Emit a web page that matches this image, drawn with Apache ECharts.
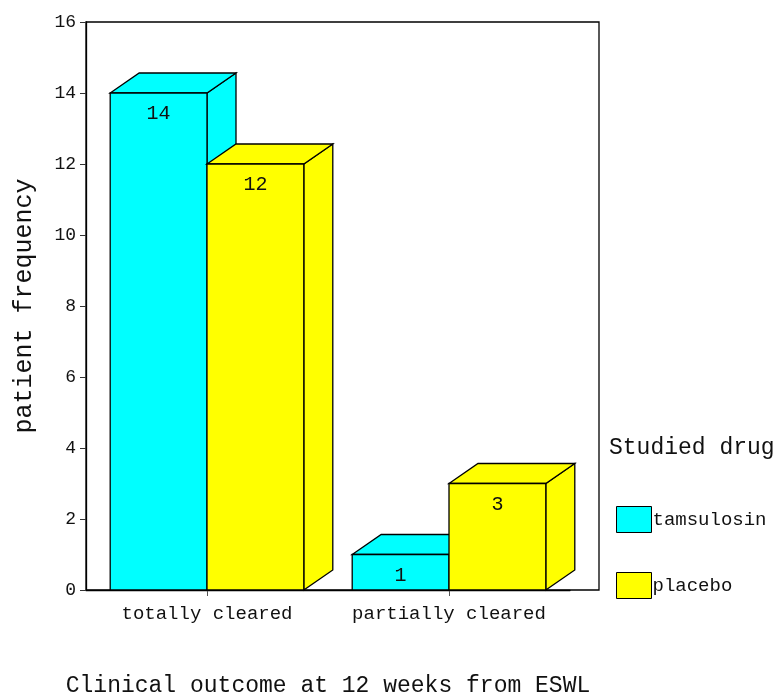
<!DOCTYPE html>
<html>
<head>
<meta charset="utf-8">
<script src="https://cdn.jsdelivr.net/npm/echarts@6/dist/echarts.min.js"></script>
<style>html,body{margin:0;padding:0;background:#fff}#c{width:774px;height:697px}</style>
</head>
<body>
<div id="c"></div>
<script>
var categories = ['totally cleared', 'partially cleared'];
var seriesNames = ['tamsulosin', 'placebo'];
var tamsulosin = [14, 1];
var placebo = [12, 3];
var yTicks = [0, 2, 4, 6, 8, 10, 12, 14, 16];
var colors = ['#00FFFF', '#FFFF00'];

var FONT = 'Liberation Mono';
var DX = 29, DY = 20;

function renderBar(seriesIdx) {
  return function (params, api) {
    var c = api.value(0), v = api.value(1);
    var base = api.coord([c, 0]);
    var top = api.coord([c, v]);
    var band = api.size([1, 0])[0];
    var w = band * 0.4;
    var x0 = seriesIdx === 0 ? base[0] - w : base[0];
    var x1 = x0 + w;
    var ty = top[1], by = base[1];
    var style = { fill: colors[seriesIdx], stroke: '#000', lineWidth: 1.3 };
    return {
      type: 'group',
      children: [
        { type: 'polygon', shape: { points: [[x1, ty], [x1 + DX, ty - DY], [x1 + DX, by - DY], [x1, by]] }, style: style },
        { type: 'polygon', shape: { points: [[x0, ty], [x0 + DX, ty - DY], [x1 + DX, ty - DY], [x1, ty]] }, style: style },
        { type: 'rect', shape: { x: x0, y: ty, width: w, height: by - ty }, style: style },
        { type: 'text', x: (x0 + x1) / 2, y: ty + 21, style: { text: String(v), font: '20px "' + FONT + '"', fill: '#111', align: 'center', verticalAlign: 'middle' } }
      ]
    };
  };
}

function toData(arr) { return arr.map(function (v, i) { return [i, v]; }); }

var chart = echarts.init(document.getElementById('c'), null, { renderer: 'canvas' });
chart.setOption({
  animation: false,
  backgroundColor: '#fff',
  textStyle: { fontFamily: FONT },
  grid: [
    { left: 86, top: 22, width: 484, bottom: 107, containLabel: false, outerBoundsMode: 'none' },
    { left: 86, top: 22, right: 175, bottom: 107, containLabel: false, outerBoundsMode: 'none',
      show: true, borderColor: '#000', borderWidth: 1.3, backgroundColor: 'transparent' }
  ],
  title: {
    text: 'Studied drug', left: 604, top: 431,
    textStyle: { fontFamily: FONT, fontSize: 23, fontWeight: 'normal', color: '#111' }
  },
  legend: {
    orient: 'vertical', left: 611, top: 501,
    itemWidth: 35, itemHeight: 26, itemGap: 39,
    icon: 'rect',
    data: seriesNames,
    textStyle: { fontFamily: FONT, fontSize: 19, color: '#111', padding: [0, 0, 0, -4] },
    itemStyle: { borderColor: '#000', borderWidth: 1 }
  },
  xAxis: [
    {
      type: 'category', gridIndex: 0, data: categories, boundaryGap: true,
      axisLine: { show: true, lineStyle: { color: '#000', width: 1.3 } },
      axisTick: { show: true, alignWithLabel: true, length: 6, lineStyle: { color: '#555' } },
      axisLabel: { fontFamily: FONT, fontSize: 19, color: '#111', margin: 14, interval: 0, hideOverlap: false },
      name: 'Clinical outcome at 12 weeks from ESWL', nameLocation: 'middle', nameGap: 84,
      nameTextStyle: { fontFamily: FONT, fontSize: 23, color: '#111' }
    },
    { type: 'value', gridIndex: 1, show: false }
  ],
  yAxis: [
    {
      type: 'value', gridIndex: 0, min: 0, max: 16, interval: 2,
      axisLine: { show: true, lineStyle: { color: '#000', width: 1.3 } },
      axisTick: { show: true, length: 6, lineStyle: { color: '#333' } },
      splitLine: { show: false },
      axisLabel: { fontFamily: FONT, fontSize: 18, color: '#111', margin: 10,
        formatter: function (v) { return yTicks.indexOf(v) >= 0 ? String(v) : ''; } },
      name: 'patient frequency', nameLocation: 'middle', nameGap: 49,
      nameTextStyle: { fontFamily: FONT, fontSize: 25, color: '#111' }
    },
    { type: 'value', gridIndex: 1, show: false }
  ],
  series: [
    { name: seriesNames[0], type: 'custom', xAxisIndex: 0, yAxisIndex: 0, clip: false,
      itemStyle: { color: colors[0], borderColor: '#000', borderWidth: 1 },
      renderItem: renderBar(0), data: toData(tamsulosin), encode: { x: 0, y: 1 } },
    { name: seriesNames[1], type: 'custom', xAxisIndex: 0, yAxisIndex: 0, clip: false,
      itemStyle: { color: colors[1], borderColor: '#000', borderWidth: 1 },
      renderItem: renderBar(1), data: toData(placebo), encode: { x: 0, y: 1 } }
  ]
});
</script>
</body>
</html>
